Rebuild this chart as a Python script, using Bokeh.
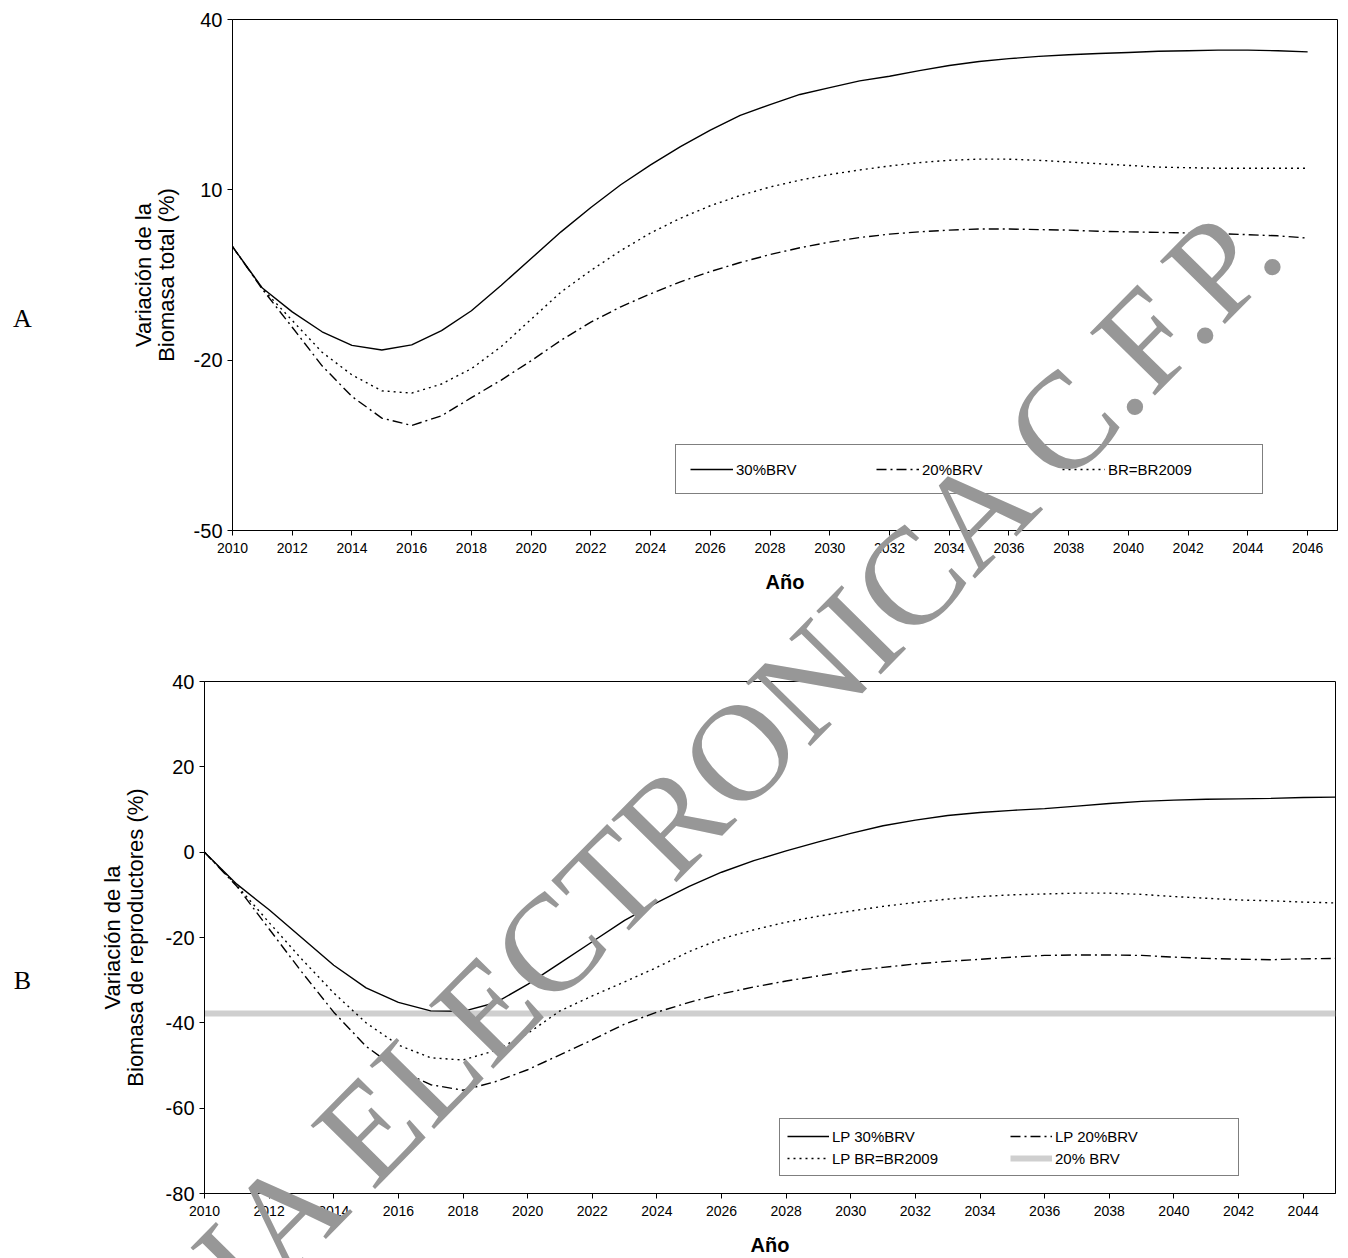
from bokeh.plotting import figure
from bokeh.models import Range1d, FixedTicker, Legend, LegendItem
from bokeh.core.properties import value
from bokeh.embed import file_html
from bokeh.resources import INLINE
import math

# ---------------- data ----------------
years_a = list(range(2010, 2047))
a_30brv = [0, -7.3, -11.5, -15.0, -17.4, -18.2, -17.3, -14.8, -11.3, -6.8, -2.1, 2.6, 6.9, 10.9,
           14.4, 17.6, 20.5, 23.1, 25.0, 26.8, 28.0, 29.2, 30.0, 31.0, 31.9, 32.6, 33.1, 33.5,
           33.8, 34.0, 34.2, 34.4, 34.5, 34.6, 34.6, 34.5, 34.3]
a_20brv = [0, -7.5, -14.2, -21.0, -26.4, -30.2, -31.5, -29.8, -26.6, -23.5, -20.1, -16.5, -13.3,
           -10.6, -8.3, -6.2, -4.4, -2.8, -1.4, -0.2, 0.8, 1.6, 2.2, 2.6, 2.9, 3.1, 3.1, 3.0,
           2.9, 2.7, 2.6, 2.5, 2.4, 2.3, 2.1, 1.9, 1.5]
a_br2009 = [0, -7.4, -13.0, -18.6, -22.6, -25.4, -25.8, -24.2, -21.5, -17.6, -12.8, -8.0, -4.2,
            -0.7, 2.4, 5.0, 7.2, 9.0, 10.5, 11.7, 12.7, 13.5, 14.2, 14.8, 15.2, 15.4, 15.4, 15.2,
            14.9, 14.6, 14.3, 14.0, 13.9, 13.8, 13.8, 13.8, 13.8]

years_b = list(range(2010, 2046))
b_lp30 = [0, -7.5, -13.5, -20.0, -26.5, -31.8, -35.2, -37.2, -37.3, -35.3, -31.0, -26.0, -21.0,
          -16.0, -11.8, -8.0, -4.7, -2.0, 0.3, 2.4, 4.4, 6.2, 7.5, 8.6, 9.3, 9.8, 10.2, 10.8,
          11.4, 11.9, 12.2, 12.4, 12.5, 12.6, 12.8, 12.9]
b_lp20 = [0, -8.0, -18.0, -28.0, -37.5, -45.5, -51.0, -54.5, -55.8, -53.8, -51.0, -47.5, -44.0,
          -40.3, -37.5, -35.2, -33.2, -31.6, -30.2, -29.0, -27.8, -27.0, -26.2, -25.6, -25.1,
          -24.6, -24.2, -24.1, -24.1, -24.2, -24.6, -24.9, -25.1, -25.2, -25.0, -24.9]
b_lpbr = [0, -7.8, -16.5, -25.0, -33.0, -40.0, -45.2, -48.2, -48.7, -46.5, -42.5, -37.2, -33.7,
          -30.4, -27.0, -23.3, -20.3, -18.2, -16.4, -15.0, -13.8, -12.7, -11.8, -11.0, -10.4,
          -10.0, -9.8, -9.6, -9.6, -9.9, -10.4, -10.8, -11.2, -11.4, -11.7, -11.9]
brv20_level = -37.8

xticks_a = list(range(2010, 2047, 2))
xticks_b = list(range(2010, 2045, 2))
yticks_a = [-50, -20, 10, 40]
yticks_b = [-80, -60, -40, -20, 0, 20, 40]

panel_letters = ["A", "B"]
WM_TEXT = "COPIA ELECTRONICA C.F.P."

FONT = "Liberation Sans"
SERIF = "Liberation Serif"
WM_COLOR = "#979797"


def style(p, xticks, yticks, ylabel, ylabel_standoff):
    p.outline_line_color = "black"
    p.outline_line_width = 1
    p.xgrid.visible = False
    p.ygrid.visible = False
    p.xaxis.ticker = FixedTicker(ticks=xticks)
    p.yaxis.ticker = FixedTicker(ticks=yticks)
    p.yaxis.major_label_overrides = {t: str(t) for t in yticks}
    for ax in (p.xaxis[0], p.yaxis[0]):
        ax.axis_line_color = "black"
        ax.major_tick_line_color = "black"
        ax.major_tick_in = 0
        ax.major_tick_out = 5
        ax.minor_tick_line_color = None
        ax.major_label_text_font = FONT
        ax.major_label_text_color = "black"
        ax.axis_label_text_font = FONT
        ax.axis_label_text_color = "black"
    p.xaxis.major_label_text_font_size = "14px"
    p.xaxis.major_label_standoff = 7
    p.xaxis.axis_label = "Año"
    p.xaxis.axis_label_text_font_style = "bold"
    p.xaxis.axis_label_text_font_size = "20px"
    p.xaxis.axis_label_standoff = 15
    p.yaxis.major_label_text_font_size = "20px"
    p.yaxis.major_label_standoff = 5
    p.yaxis.axis_label = ylabel
    p.yaxis.axis_label_text_font_style = "normal"
    p.yaxis.axis_label_text_font_size = "22px"
    p.yaxis.axis_label_text_line_height = 0.9
    p.yaxis.axis_label_standoff = ylabel_standoff


# ---------------- chart A ----------------
pa = figure(width=1348, height=620, output_backend="svg", toolbar_location=None,
            x_range=Range1d(2010, 2047), y_range=Range1d(-50, 40),
            min_border_left=232, min_border_right=11, min_border_top=19, min_border_bottom=90)
style(pa, xticks_a, yticks_a, "Variación de la\nBiomasa total (%)", 12)

ra1 = pa.line(years_a, a_30brv, line_color="black", line_width=1.4)
ra2 = pa.line(years_a, a_20brv, line_color="black", line_width=1.4, line_dash="10 4 2 4")
ra3 = pa.line(years_a, a_br2009, line_color="black", line_width=1.4, line_dash="2 4")

leg_a = Legend(items=[LegendItem(label="30%BRV", renderers=[ra1]),
                      LegendItem(label="20%BRV", renderers=[ra2]),
                      LegendItem(label="BR=BR2009", renderers=[ra3])],
               orientation="horizontal", location=(443, 36),
               padding=14, spacing=0, glyph_width=43, glyph_height=20,
               label_standoff=3, label_width=140, label_height=20,
               label_text_font=FONT, label_text_font_size="15px", label_text_color="black",
               border_line_color="black", border_line_width=1,
               background_fill_color="white", background_fill_alpha=1)
pa.add_layout(leg_a)

# ---------------- chart B ----------------
pb = figure(width=1348, height=638, output_backend="svg", toolbar_location=None,
            x_range=Range1d(2010, 2045), y_range=Range1d(-80, 40),
            min_border_left=204, min_border_right=13, min_border_top=61, min_border_bottom=65)
style(pb, xticks_b, yticks_b, "Variación de la\nBiomasa de reproductores (%)", 15)

rg = pb.line([years_b[0], years_b[-1]], [brv20_level, brv20_level], line_color="#cfcfcf", line_width=6)
rb1 = pb.line(years_b, b_lp30, line_color="black", line_width=1.4)
rb2 = pb.line(years_b, b_lp20, line_color="black", line_width=1.4, line_dash="10 4 2 4")
rb3 = pb.line(years_b, b_lpbr, line_color="black", line_width=1.4, line_dash="2 4")

leg_b = Legend(items=[LegendItem(label="LP 30%BRV", renderers=[rb1]),
                      LegendItem(label="LP BR=BR2009", renderers=[rb3]),
                      LegendItem(label="LP 20%BRV", renderers=[rb2]),
                      LegendItem(label="20% BRV", renderers=[rg])],
               orientation="vertical", ncols=2, location=(575, 17),
               padding=7, spacing=2, glyph_width=42, glyph_height=20,
               label_standoff=3, label_width=176, label_height=20,
               label_text_font=FONT, label_text_font_size="15px", label_text_color="black",
               border_line_color="black", border_line_width=1,
               background_fill_color="white", background_fill_alpha=1)
pb.add_layout(leg_b)

# ---------------- page overlay: panel letters and watermark ----------------
pw = figure(width=1348, height=1258, output_backend="svg", toolbar_location=None,
            x_range=Range1d(0, 1348), y_range=Range1d(1258, 0),
            x_axis_type=None, y_axis_type=None,
            min_border_left=0, min_border_right=0, min_border_top=0, min_border_bottom=0,
            styles={"position": "absolute", "top": "0px", "left": "0px",
                    "pointer-events": "none", "z-index": "10"})
pw.outline_line_color = None
pw.background_fill_alpha = 0
pw.border_fill_alpha = 0
pw.xgrid.visible = False
pw.ygrid.visible = False

pw.text(x=[22, 22], y=[318, 980], text=panel_letters, text_font=value(SERIF),
        text_font_size=value("26px"), text_color="black",
        text_align="center", text_baseline="middle")
pw.text(x=[1266], y=[215], text=[WM_TEXT], angle=math.radians(45.5),
        text_font=value(SERIF), text_font_size=value("138px"), text_color=WM_COLOR,
        text_align="right", text_baseline="alphabetic")

open("out.html", "w").write(file_html([pa, pb, pw], INLINE))
